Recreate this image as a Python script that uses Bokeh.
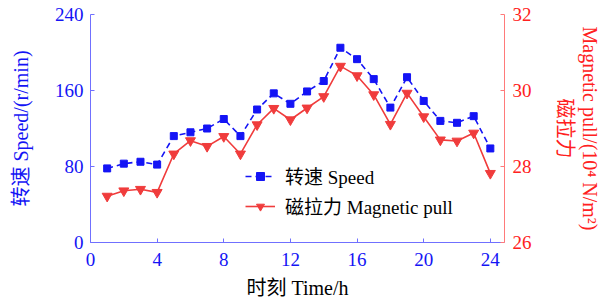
from bokeh.plotting import figure
from bokeh.models import Range1d, LinearAxis, FixedTicker, Legend, LegendItem
from bokeh.embed import file_html
from bokeh.resources import INLINE

hours = list(range(1, 25))
speed = [78, 83, 85, 82, 112, 116, 120, 130, 112, 140, 157, 146,
         159, 170, 205, 193, 172, 142, 174, 149, 128, 126, 133, 99]
pull = [27.22, 27.36, 27.40, 27.32, 28.33, 28.68, 28.53, 28.79, 28.33, 29.10, 29.53, 29.23,
        29.54, 29.84, 30.64, 30.39, 29.89, 29.11, 29.93, 29.31, 28.70, 28.67, 28.88, 27.82]
x_ticks = [0, 4, 8, 12, 16, 20, 24]
speed_ticks = [0, 80, 160, 240]
pull_ticks = [26, 28, 30, 32]
right_title = ["磁拉力", "Magnetic pull/(10⁴ N/m²)"]

FONT = "Liberation Serif, Noto Sans CJK SC"
BLUE = "#1414f5"
BLUE_AX = "#7070ff"
RED = "#f03c3c"
RED_TXT = "#ff2020"
RED_AX = "#ff7a7a"

p = figure(width=603, height=306, output_backend="svg", toolbar_location=None,
           x_range=Range1d(0, 24.85), y_range=Range1d(0, 240),
           min_border_left=90, min_border_top=14, min_border_bottom=64, min_border_right=99)
p.outline_line_color = None
p.xgrid.visible = False
p.ygrid.visible = False
p.extra_y_ranges = {"pull": Range1d(26, 32)}

def style(ax, txt, line):
    ax.axis_line_color = line
    ax.major_tick_line_color = line
    ax.major_tick_in = 4
    ax.major_tick_out = 0
    ax.minor_tick_line_color = None
    ax.major_label_text_color = txt
    ax.major_label_text_font = FONT
    ax.major_label_text_font_size = "19px"
    ax.axis_label_text_font = FONT
    ax.axis_label_text_font_size = "20px"
    ax.axis_label_text_font_style = "normal"

xa = p.xaxis[0]
xa.ticker = FixedTicker(ticks=x_ticks)
style(xa, BLUE, BLUE_AX)
xa.axis_label = "时刻 Time/h"
xa.axis_label_text_color = "#000000"
xa.major_label_standoff = 10
xa.axis_label_standoff = 8

ya = p.yaxis[0]
ya.ticker = FixedTicker(ticks=speed_ticks)
style(ya, BLUE, BLUE_AX)
ya.axis_label = "转速 Speed/(r/min)"
ya.axis_label_text_color = BLUE
ya.major_label_standoff = 7
ya.axis_label_standoff = 20

ra = LinearAxis(y_range_name="pull", ticker=FixedTicker(ticks=pull_ticks))
style(ra, RED_TXT, RED_AX)
ra.major_label_standoff = 8
p.add_layout(ra, "right")

for txt, stand in [(right_title[0], 19), (right_title[1], 0)]:
    ax = LinearAxis(y_range_name="pull", ticker=FixedTicker(ticks=[]))
    style(ax, RED_TXT, None)
    ax.axis_label = txt
    ax.axis_label_text_color = RED_TXT
    ax.axis_label_standoff = stand
    ax.major_label_standoff = 0
    p.add_layout(ax, "right")

l1 = p.line(hours, speed, line_color=BLUE, line_width=1.6, line_dash="6 4")
s1 = p.scatter(hours, speed, marker="square", size=7, fill_color=BLUE, line_color=BLUE)
l2 = p.line(hours, pull, y_range_name="pull", line_color=RED, line_width=1.6)
s2 = p.scatter(hours, pull, y_range_name="pull", marker="inverted_triangle", size=10,
               fill_color=RED, line_color=RED)

legend = Legend(items=[LegendItem(label="转速 Speed", renderers=[l1, s1]),
                       LegendItem(label="磁拉力 Magnetic pull", renderers=[l2, s2])],
                location=(155, 23), border_line_color=None, background_fill_alpha=0,
                label_text_font=FONT, label_text_font_size="19px", label_text_color="#000000",
                glyph_width=30, glyph_height=20, label_standoff=10, spacing=3, padding=0,
                label_height=20)
p.add_layout(legend, "center")

open("out.html", "w").write(file_html(p, INLINE))
